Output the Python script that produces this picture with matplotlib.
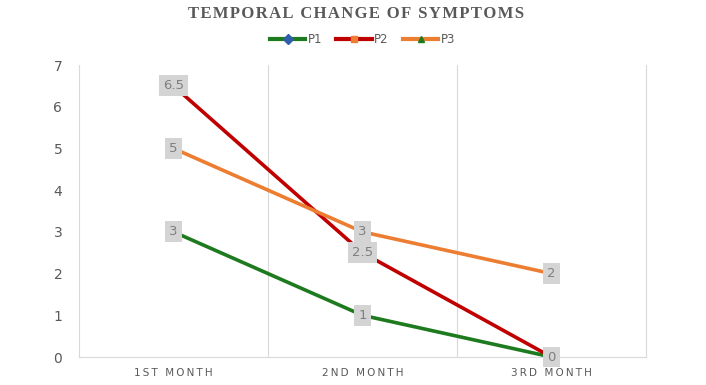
import numpy as np
import matplotlib.pyplot as plt

# Data
months = ['1ST MONTH', '2ND MONTH', '3RD MONTH']
p1 = [3, 1, 0]
p2 = [6.5, 2.5, 0]
p3 = [5, 3, 2]

series = [
    ('P1', p1, '#1e7a1e', '#2e5fa8', 'D'),
    ('P2', p2, '#c00000', '#ed7d31', 's'),
    ('P3', p3, '#ed7d31', '#1e7a1e', '^'),
]


def spaced(s, sp='\u2009'):
    # letter spacing via thin spaces
    return sp.join(s)


fig = plt.figure(figsize=(7.06, 3.85), dpi=100)
ax = fig.add_axes([0.1119, 0.0727, 0.8031, 0.7584])

x = np.arange(len(months))
for name, vals, lc, mc, mk in series:
    ax.plot(x, vals, color=lc, lw=2.6, marker=mk, markersize=5,
            markerfacecolor=mc, markeredgecolor=mc, label=name, zorder=3)

# Data labels (P2 on top of P3 as in the reference)
for name, vals, lc, mc, mk in [series[0], series[2], series[1]]:
    for xi, v in zip(x, vals):
        ax.text(xi, v, f'{v:g}', ha='center', va='center', fontsize=9.5,
                color='#7f7f7f', zorder=5,
                bbox=dict(boxstyle='square,pad=0.3', fc='#d4d4d4', ec='none'))

ax.set_xlim(-0.5, 2.5)
ax.set_ylim(0, 7)
ax.set_xticks(x)
ax.set_xticklabels([spaced(m) for m in months], fontsize=7.5, color='#595959')
ax.set_yticks(range(0, 8))
ax.tick_params(axis='both', length=0, labelsize=10, labelcolor='#595959')
ax.tick_params(axis='x', labelsize=7.5, pad=8)
ax.tick_params(axis='y', pad=12)

for xv in [0.5, 1.5]:
    ax.axvline(xv, color='#d9d9d9', lw=0.8, zorder=1)
for s in ['left', 'right', 'bottom']:
    ax.spines[s].set_color('#d9d9d9')
    ax.spines[s].set_linewidth(0.8)
ax.spines['top'].set_visible(False)

fig.suptitle(spaced('TEMPORAL CHANGE OF SYMPTOMS', '\u200a'), x=0.505, y=0.985,
             fontsize=12, fontweight='bold', family='Liberation Serif',
             color='#595959')
ax.legend(loc='upper center', bbox_to_anchor=(0.5, 1.145), ncol=3,
          frameon=False, fontsize=8.5, handlelength=3, columnspacing=1.2,
          handletextpad=0.2, labelcolor='#595959')
for ln in ax.get_legend().get_lines():
    ln.set_linewidth(3)

fig.savefig('out.png', dpi=100)
